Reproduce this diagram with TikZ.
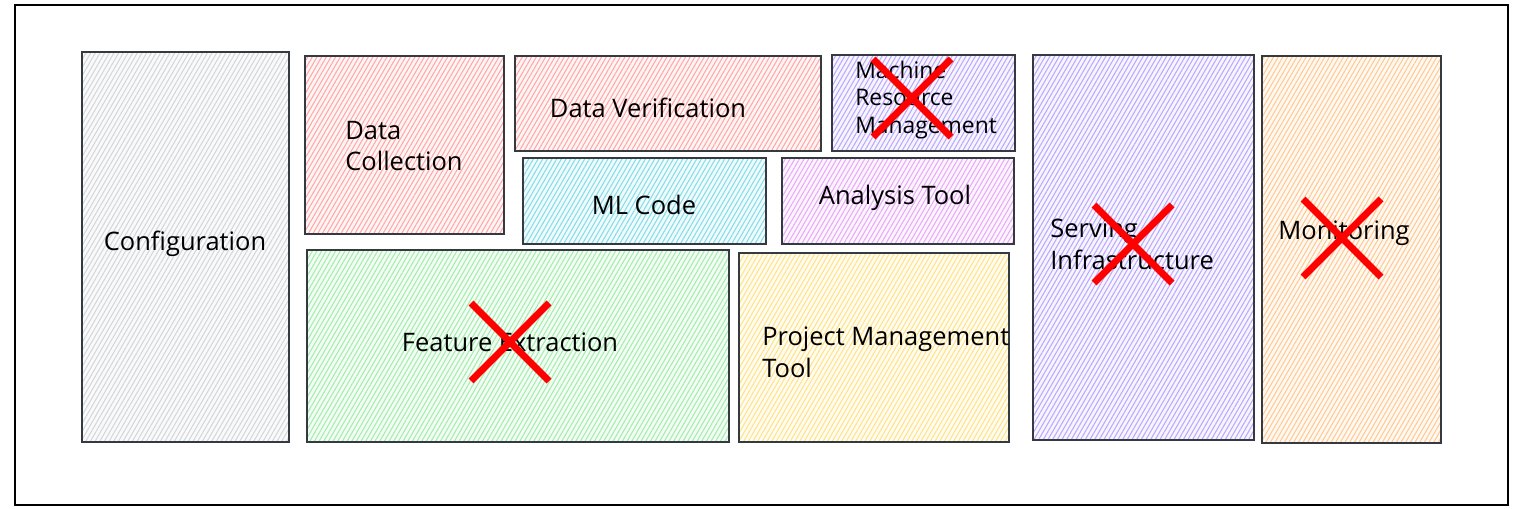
\documentclass[tikz,border=0pt]{standalone}
\usepackage{fontspec}
\setmainfont{Open Sans}
\usetikzlibrary{patterns.meta}

\definecolor{edge}{HTML}{343A40}
\definecolor{hgray}{HTML}{D3D7DB}
\definecolor{hred}{HTML}{FFA8A8}
\definecolor{hviolet}{HTML}{BCA8FD}
\definecolor{hcyan}{HTML}{86DDE9}
\definecolor{hgrape}{HTML}{E7AAF7}
\definecolor{hgreen}{HTML}{A3EDAD}
\definecolor{hyellow}{HTML}{FFE38A}
\definecolor{horange}{HTML}{FFC994}

\begin{document}
\begin{tikzpicture}[x=0.02cm, y=0.02cm,
    box/.style={draw=edge, line width=0.7pt,
      pattern={Lines[angle=60, distance=2.3pt, line width=0.6pt]}},
    hatch/.style={box, preaction={fill=#1!12}, pattern color=#1},
    lbl/.style={inner sep=0pt, align=left, font=\fontsize{14.5}{18}\selectfont},
    strikeline/.style={red, line width=4pt}]

    \useasboundingbox (0,0) rectangle (1520,-509);
    \draw[line width=1.1pt] (15,-5) rectangle (1508,-505);

    % left column
    \draw[hatch=hgray] (82,-52) rectangle (289,-442);
    \node[lbl] (config) at (185,-244) {Configuration};

    % top row
    \draw[hatch=hred] (305,-56) rectangle (504,-234);
    \node[lbl, anchor=west] (collect) at (345,-146) {Data\\Collection};

    \draw[hatch=hred] (515,-56) rectangle (821,-151);
    \node[lbl] (verify) at (648,-108) {Data Verification};

    \draw[hatch=hviolet] (832,-55) rectangle (1015,-151);
    \node[lbl, anchor=west, font=\fontsize{13}{15.5}\selectfont] (resource) at (855,-100)
      {Machine\\Resource\\Management};

    % middle row
    \draw[hatch=hcyan] (523,-158) rectangle (766,-244);
    \node[lbl] (mlcode) at (644,-205) {ML Code};

    \draw[hatch=hgrape] (782,-158) rectangle (1014,-244);
    \node[lbl] (analysis) at (895,-198) {Analysis Tool};

    % bottom row
    \draw[hatch=hgreen] (307,-250) rectangle (729,-442);
    \node[lbl] (feature) at (510,-342) {Feature Extraction};

    \draw[hatch=hyellow] (739,-253) rectangle (1009,-442);
    \node[lbl, anchor=west] (project) at (762,-352) {Project Management\\Tool};

    % right columns
    \draw[hatch=hviolet] (1033,-55) rectangle (1254,-440);
    \node[lbl, anchor=west] (serving) at (1050,-244) {Serving\\Infrastructure};

    \draw[hatch=horange] (1262,-56) rectangle (1441,-443);
    \node[lbl] (monitor) at (1344,-233) {Monitoring};

    % struck out parts
    \foreach \cx/\cy in {912/98, 1133/244, 1342/238, 510/342}
      \draw[strikeline] (\cx,-\cy) ++(-39,39) -- ++(78,-78) ++(0,78) -- ++(-78,-78);

\end{tikzpicture}
\end{document}
